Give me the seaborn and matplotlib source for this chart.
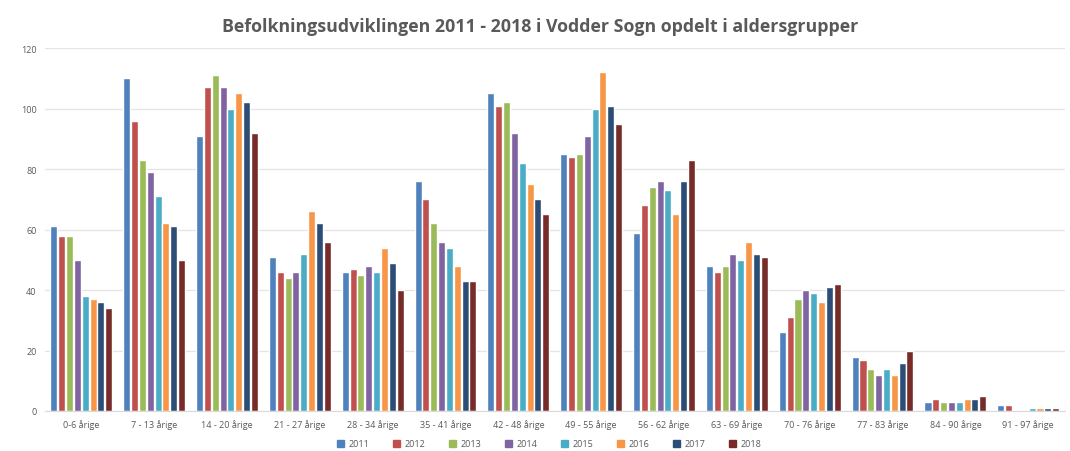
import pandas as pd
import matplotlib.pyplot as plt
import seaborn as sns

# aldersgrupper og år
age_groups = ['0-6 årige', '7 - 13 årige', '14 - 20 årige', '21 - 27 årige',
              '28 - 34 årige', '35 - 41 årige', '42 - 48 årige', '49 - 55 årige',
              '56 - 62 årige', '63 - 69 årige', '70 - 76 årige', '77 - 83 årige',
              '84 - 90 årige', '91 - 97 årige']
years = ['2011', '2012', '2013', '2014', '2015', '2016', '2017', '2018']

# antal personer pr. aldersgruppe (aflæst), en liste pr. år
v2011 = [61, 110, 91, 51, 46, 76, 105, 85, 59, 48, 26, 18, 3, 2]
v2012 = [58, 96, 107, 46, 47, 70, 101, 84, 68, 46, 31, 17, 4, 2]
v2013 = [58, 83, 111, 44, 45, 62, 102, 85, 74, 48, 37, 14, 3, 0]
v2014 = [50, 79, 107, 46, 48, 56, 92, 91, 76, 52, 40, 12, 3, 0]
v2015 = [38, 71, 100, 52, 46, 54, 82, 100, 73, 50, 39, 14, 3, 1]
v2016 = [37, 62, 105, 66, 54, 48, 75, 112, 65, 56, 36, 12, 4, 1]
v2017 = [36, 61, 102, 62, 49, 43, 70, 101, 76, 52, 41, 16, 4, 1]
v2018 = [34, 50, 92, 56, 40, 43, 65, 95, 83, 51, 42, 20, 5, 1]

colors = ['#4F81BD', '#C0504D', '#9BBB59', '#8064A2',
          '#4BACC6', '#F79646', '#2C4D75', '#772C2A']

rows = []
for year, vals in zip(years, [v2011, v2012, v2013, v2014, v2015, v2016, v2017, v2018]):
    for group, v in zip(age_groups, vals):
        rows.append({'Aldersgruppe': group, 'År': year, 'Antal': v})
df = pd.DataFrame(rows)

sns.set_style('white')
plt.rcParams['font.family'] = ['Open Sans', 'DejaVu Sans']

fig = plt.figure(figsize=(10.7, 4.52), dpi=100)
ax = fig.add_axes([0.042, 0.0885, 0.953, 0.803])

sns.barplot(data=df, x='Aldersgruppe', y='Antal', hue='År', order=age_groups,
            hue_order=years, palette=colors, width=0.86, gap=0.1,
            saturation=1, ax=ax, legend=False)

ax.set_ylim(0, 120)
ax.set_yticks(range(0, 121, 20))
ax.yaxis.grid(True, color='#E4E4E4', linewidth=0.9)
ax.set_axisbelow(True)
for s in ['top', 'right', 'left']:
    ax.spines[s].set_visible(False)
ax.spines['bottom'].set_color('#D9D9D9')
ax.tick_params(axis='both', length=0, labelsize=6.5, colors='#595959', pad=6)
ax.set_xlabel('')
ax.set_ylabel('')
ax.set_xlim(-0.5, len(age_groups) - 0.5)

ax.set_title('Befolkningsudviklingen 2011 - 2018 i Vodder Sogn opdelt i aldersgrupper',
             fontsize=12.8, fontweight='bold', color='#595959', pad=12, x=0.486)

handles = [plt.Rectangle((0, 0), 1, 1, color=c) for c in colors]
fig.legend(handles, years, loc='center', bbox_to_anchor=(0.513, 1 - 445 / 452),
           ncol=8, frameon=False, fontsize=6.5, handlelength=0.8, handleheight=0.8,
           columnspacing=2.6, handletextpad=0.5, labelcolor='#595959',
           borderpad=0.1)

plt.savefig('out.png', dpi=100)
plt.close()
